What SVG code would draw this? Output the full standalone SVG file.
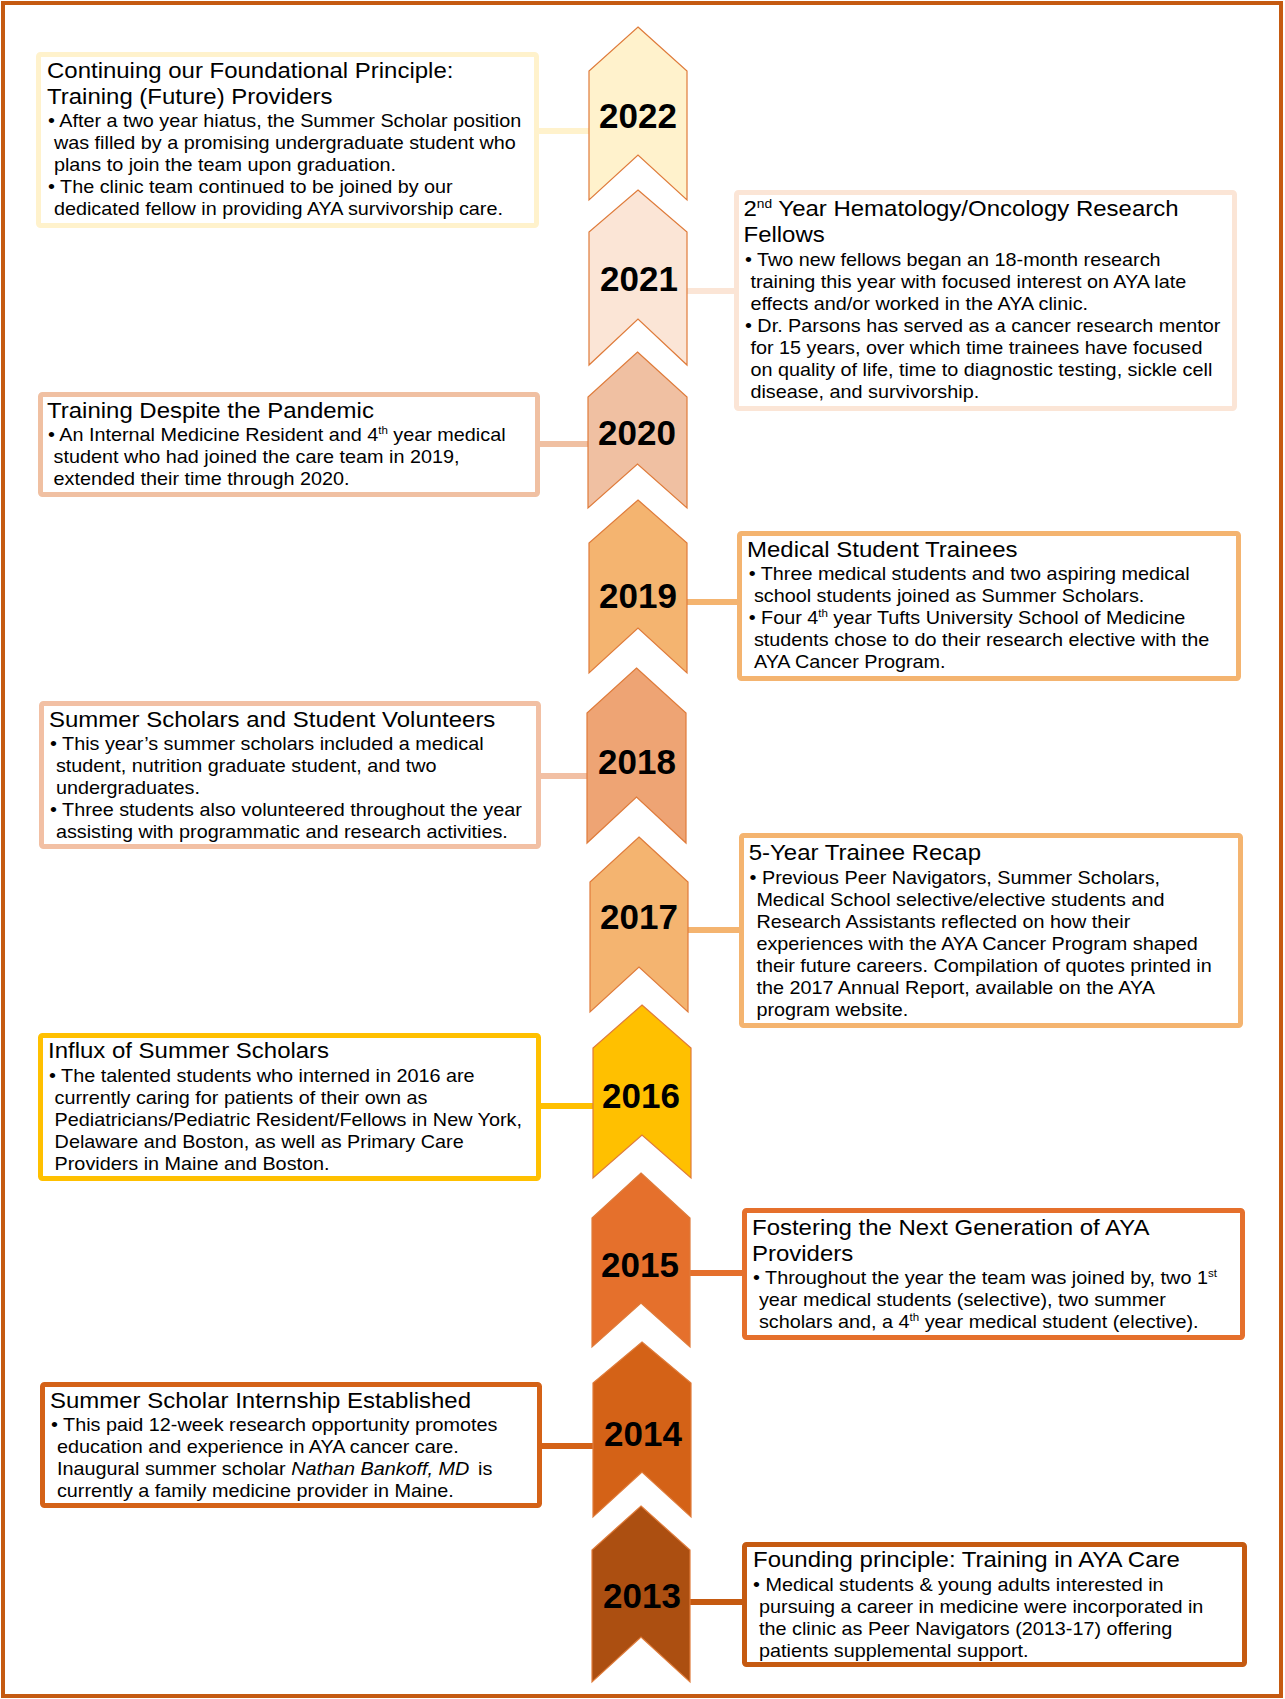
<svg xmlns="http://www.w3.org/2000/svg" width="1285" height="1699" viewBox="0 0 1285 1699">
<style>
.frame{fill:#fff;stroke:#C55A11;stroke-width:4}
.box{fill:#fff;stroke-width:5}
.chev{stroke:#DF7B3A;stroke-width:1.2}
.con{stroke-width:6;fill:none}
.t{font-family:"Liberation Sans",Arial,sans-serif;font-size:21.8px;fill:#000}
.b{font-family:"Liberation Sans",Arial,sans-serif;font-size:18px;fill:#000}
.sp{font-size:10.5px}
.spt{font-size:12.5px}
.yr{font-family:"Liberation Sans",Arial,sans-serif;font-weight:bold;font-size:35px;fill:#000;text-anchor:middle}
</style>
<rect class="frame" x="3" y="3" width="1278" height="1693"/>

<g id="connectors">
<line class="con" x1="536" y1="131" x2="590" y2="131" stroke="#FFF2CC"/>
<line class="con" x1="686" y1="291" x2="737" y2="291" stroke="#FBE5D6"/>
<line class="con" x1="537" y1="444" x2="589" y2="444" stroke="#F0C0A2"/>
<line class="con" x1="686" y1="602" x2="740" y2="602" stroke="#F4B470"/>
<line class="con" x1="538" y1="776" x2="588" y2="776" stroke="#F2C0A4"/>
<line class="con" x1="687" y1="930" x2="742" y2="930" stroke="#F4B470"/>
<line class="con" x1="538" y1="1106" x2="594" y2="1106" stroke="#FFC000"/>
<line class="con" x1="689" y1="1273" x2="745" y2="1273" stroke="#E5702C"/>
<line class="con" x1="539" y1="1446" x2="594" y2="1446" stroke="#D46217"/>
<line class="con" x1="689" y1="1602" x2="745" y2="1602" stroke="#C55A11"/>
</g>

<g id="y2022">
<polygon class="chev" fill="#FFF2CC" points="638,27 687,71 687,200 638,155 589,200 589,71"/>
<text class="yr" x="638" y="128">2022</text>
</g>
<g id="y2021">
<polygon class="chev" fill="#FBE5D6" points="638,190 687,232 687,365 638,319 589,365 589,232"/>
<text class="yr" x="639" y="291">2021</text>
</g>
<g id="y2020">
<polygon class="chev" fill="#F0C0A2" points="637.5,352 687,397 687,508 637.5,464 588,508 588,397"/>
<text class="yr" x="637" y="445">2020</text>
</g>
<g id="y2019">
<polygon class="chev" fill="#F4B470" points="638,500 687,543 687,673 638,628 589,673 589,543"/>
<text class="yr" x="638" y="608">2019</text>
</g>
<g id="y2018">
<polygon class="chev" fill="#EEA474" points="636.5,668 686,713 686,843 636.5,797 587,843 587,713"/>
<text class="yr" x="637" y="774">2018</text>
</g>
<g id="y2017">
<polygon class="chev" fill="#F4B470" points="639,837 688,882 688,1012 639,967 590,1012 590,882"/>
<text class="yr" x="639" y="929">2017</text>
</g>
<g id="y2016">
<polygon class="chev" fill="#FFC000" points="642,1005 691,1048 691,1178 642,1135 593,1178 593,1048"/>
<text class="yr" x="641" y="1108">2016</text>
</g>
<g id="y2015">
<polygon class="chev" fill="#E5702C" points="641,1173 690,1218 690,1347 641,1303 592,1347 592,1218"/>
<text class="yr" x="640" y="1277">2015</text>
</g>
<g id="y2014">
<polygon class="chev" fill="#D46217" points="642,1342 691,1383 691,1517 642,1472 593,1517 593,1383"/>
<text class="yr" x="643" y="1446">2014</text>
</g>
<g id="y2013">
<polygon class="chev" fill="#AC4F11" points="641,1506 690,1550 690,1682 641,1637 592,1682 592,1550"/>
<text class="yr" x="642" y="1608">2013</text>
</g>

<g id="box2022">
<rect class="box" x="38.5" y="54.5" width="498" height="171" rx="2" stroke="#FFF2CC"/>
<g transform="translate(47 0) scale(1.1 1)">
<text class="t" x="0" y="78">Continuing our Foundational Principle:</text>
<text class="t" x="0" y="104">Training (Future) Providers</text>
<text class="b" x="0.9" y="127.5">• After a two year hiatus, the Summer Scholar position</text>
<text class="b" x="6.3" y="149.5">was filled by a promising undergraduate student who</text>
<text class="b" x="6.3" y="171.5">plans to join the team upon graduation.</text>
<text class="b" x="0.9" y="193.5">• The clinic team continued to be joined by our</text>
<text class="b" x="6.3" y="215.5">dedicated fellow in providing AYA survivorship care.</text>
</g>
</g>

<g id="box2021">
<rect class="box" x="736.5" y="192.5" width="498" height="216" rx="2" stroke="#FBE5D6"/>
<g transform="translate(743.5 0) scale(1.1 1)">
<text class="t" x="0" y="216.5">2<tspan class="spt" dy="-8">nd</tspan><tspan dy="8"> Year Hematology/Oncology Research</tspan></text>
<text class="t" x="0" y="242.5">Fellows</text>
<text class="b" x="1.3" y="266.5">• Two new fellows began an 18-month research</text>
<text class="b" x="6.3" y="288.5">training this year with focused interest on AYA late</text>
<text class="b" x="6.3" y="310.5">effects and/or worked in the AYA clinic.</text>
<text class="b" x="1.3" y="332.5">• Dr. Parsons has served as a cancer research mentor</text>
<text class="b" x="6.3" y="354.5">for 15 years, over which time trainees have focused</text>
<text class="b" x="6.3" y="376.5">on quality of life, time to diagnostic testing, sickle cell</text>
<text class="b" x="6.3" y="398.5">disease, and survivorship.</text>
</g>
</g>

<g id="box2020">
<rect class="box" x="40.5" y="394.5" width="497" height="100" rx="2" stroke="#F0C0A2"/>
<g transform="translate(47 0) scale(1.1 1)">
<text class="t" x="0" y="418">Training Despite the Pandemic</text>
<text class="b" x="0.9" y="441.5">• An Internal Medicine Resident and 4<tspan class="sp" dy="-7">th</tspan><tspan dy="7"> year medical</tspan></text>
<text class="b" x="6" y="463.5">student who had joined the care team in 2019,</text>
<text class="b" x="6" y="485.5">extended their time through 2020.</text>
</g>
</g>

<g id="box2019">
<rect class="box" x="739.5" y="533.5" width="499" height="145" rx="2" stroke="#F4B470"/>
<g transform="translate(747 0) scale(1.1 1)">
<text class="t" x="0" y="557">Medical Student Trainees</text>
<text class="b" x="1.5" y="580.5">• Three medical students and two aspiring medical</text>
<text class="b" x="6.3" y="602.5">school students joined as Summer Scholars.</text>
<text class="b" x="1.5" y="624.5">• Four 4<tspan class="sp" dy="-7">th</tspan><tspan dy="7"> year Tufts University School of Medicine</tspan></text>
<text class="b" x="6.3" y="646.5">students chose to do their research elective with the</text>
<text class="b" x="6.3" y="668.5">AYA Cancer Program.</text>
</g>
</g>

<g id="box2018">
<rect class="box" x="41.5" y="703.5" width="497" height="143" rx="2" stroke="#F2C0A4"/>
<g transform="translate(49 0) scale(1.1 1)">
<text class="t" x="0" y="727.5">Summer Scholars and Student Volunteers</text>
<text class="b" x="0.9" y="750.5">• This year’s summer scholars included a medical</text>
<text class="b" x="6.3" y="772.5">student, nutrition graduate student, and two</text>
<text class="b" x="6.3" y="794.5">undergraduates.</text>
<text class="b" x="0.9" y="816.5">• Three students also volunteered throughout the year</text>
<text class="b" x="6.3" y="838.5">assisting with programmatic and research activities.</text>
</g>
</g>

<g id="box2017">
<rect class="box" x="741.5" y="835.5" width="499" height="190" rx="2" stroke="#F4B470"/>
<g transform="translate(748.7 0) scale(1.1 1)">
<text class="t" x="0" y="860">5-Year Trainee Recap</text>
<text class="b" x="0.8" y="884">• Previous Peer Navigators, Summer Scholars,</text>
<text class="b" x="7" y="906">Medical School selective/elective students and</text>
<text class="b" x="7" y="928">Research Assistants reflected on how their</text>
<text class="b" x="7" y="950">experiences with the AYA Cancer Program shaped</text>
<text class="b" x="7" y="972">their future careers. Compilation of quotes printed in</text>
<text class="b" x="7" y="994">the 2017 Annual Report, available on the AYA</text>
<text class="b" x="7" y="1016">program website.</text>
</g>
</g>

<g id="box2016">
<rect class="box" x="40.5" y="1035.5" width="498" height="143" rx="2" stroke="#FFC000"/>
<g transform="translate(48 0) scale(1.1 1)">
<text class="t" x="0" y="1058.5">Influx of Summer Scholars</text>
<text class="b" x="0.9" y="1082.5">• The talented students who interned in 2016 are</text>
<text class="b" x="6" y="1104.5">currently caring for patients of their own as</text>
<text class="b" x="6" y="1126.5">Pediatricians/Pediatric Resident/Fellows in New York,</text>
<text class="b" x="6" y="1148.5">Delaware and Boston, as well as Primary Care</text>
<text class="b" x="6" y="1170.5">Providers in Maine and Boston.</text>
</g>
</g>

<g id="box2015">
<rect class="box" x="744.5" y="1210.5" width="498" height="127" rx="2" stroke="#E5702C"/>
<g transform="translate(752 0) scale(1.1 1)">
<text class="t" x="0" y="1235.5">Fostering the Next Generation of AYA</text>
<text class="t" x="0" y="1261.5">Providers</text>
<text class="b" x="0.9" y="1284.5">• Throughout the year the team was joined by, two 1<tspan class="sp" dy="-7">st</tspan></text>
<text class="b" x="6.3" y="1306.5">year medical students (selective), two summer</text>
<text class="b" x="6.3" y="1328.5">scholars and, a 4<tspan class="sp" dy="-7">th</tspan><tspan dy="7"> year medical student (elective).</tspan></text>
</g>
</g>

<g id="box2014">
<rect class="box" x="42.5" y="1384.5" width="497" height="121" rx="2" stroke="#D46217"/>
<g transform="translate(50 0) scale(1.1 1)">
<text class="t" x="0" y="1408">Summer Scholar Internship Established</text>
<text class="b" x="0.9" y="1431.5">• This paid 12-week research opportunity promotes</text>
<text class="b" x="6.3" y="1453.5">education and experience in AYA cancer care.</text>
<text class="b" x="6.3" y="1475.5">Inaugural summer scholar <tspan font-style="italic">Nathan Bankoff, MD</tspan><tspan dx="3"> is</tspan></text>
<text class="b" x="6.3" y="1497.5">currently a family medicine provider in Maine.</text>
</g>
</g>

<g id="box2013">
<rect class="box" x="744.5" y="1544.5" width="500" height="120" rx="2" stroke="#C55A11"/>
<g transform="translate(753 0) scale(1.1 1)">
<text class="t" x="0" y="1567.5">Founding principle: Training in AYA Care</text>
<text class="b" x="0" y="1591">• Medical students &amp; young adults interested in</text>
<text class="b" x="5.5" y="1613">pursuing a career in medicine were incorporated in</text>
<text class="b" x="5.5" y="1635">the clinic as Peer Navigators (2013-17) offering</text>
<text class="b" x="5.5" y="1657">patients supplemental support.</text>
</g>
</g>
</svg>
